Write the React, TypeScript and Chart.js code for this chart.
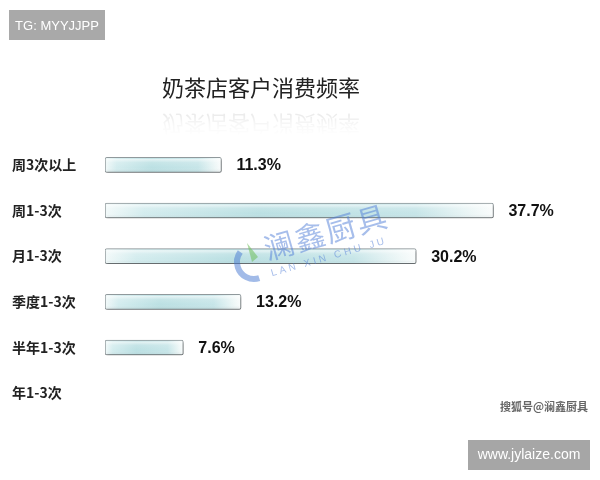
import React, { useEffect, useRef } from "react";
import { Chart, registerables } from "chart.js";

Chart.register(...registerables);

const categories = ["周3次以上", "周1-3次", "月1-3次", "季度1-3次", "半年1-3次", "年1-3次"];
const shares: (number | null)[] = [11.3, 37.7, 30.2, 13.2, 7.6, null];
const titleText = "奶茶店客户消费频率";
const tagText = "TG: MYYJJPP";
const siteText = "www.jylaize.com";
const sourceText = "搜狐号@澜鑫厨具";
const brandText = "澜鑫厨具";
const brandLatin = "LAN XIN CHU JU";

const CJK = '"Noto Sans CJK SC", "Liberation Sans", sans-serif';
const LAT = '"Liberation Sans", Arial, sans-serif';

const decorPlugin = {
  id: "decor",
  beforeDatasetsDraw(chart: any) {
    const c = chart.ctx;
    c.save();
    c.shadowColor = "rgba(0,0,0,0.35)";
    c.shadowBlur = 3;
    c.shadowOffsetY = 2;
    c.shadowOffsetX = 1;
  },
  afterDatasetsDraw(chart: any) {
    const c = chart.ctx;
    c.restore();
    const meta = chart.getDatasetMeta(0);
    meta.data.forEach((el: any, i: number) => {
      const v = shares[i];
      if (v == null) return;
      const { x, y, base, height } = el.getProps(["x", "y", "base", "height"], true);
      const top = y - height / 2;
      const g = c.createLinearGradient(0, top, 0, top + height);
      g.addColorStop(0, "rgba(255,255,255,0.85)");
      g.addColorStop(0.35, "rgba(255,255,255,0.15)");
      g.addColorStop(0.7, "rgba(255,255,255,0)");
      g.addColorStop(1, "rgba(120,140,145,0.25)");
      c.save();
      c.fillStyle = g;
      c.fillRect(base + 1.5, top + 1.5, x - base - 3, height - 3);
      c.restore();
      c.save();
      c.font = "bold 16px " + LAT;
      c.fillStyle = "#111";
      c.textBaseline = "middle";
      c.textAlign = "left";
      c.fillText(v.toFixed(1) + "%", x + 15, y + 1);
      c.restore();
    });
  },
  afterDraw(chart: any) {
    const c = chart.ctx;
    c.save();
    c.font = "22px " + CJK;
    c.fillStyle = "#222";
    c.textAlign = "center";
    c.textBaseline = "middle";
    c.fillText(titleText, 261, 88);
    c.translate(261, 106);
    c.scale(1, -1);
    const rg = c.createLinearGradient(0, 0, 0, -30);
    rg.addColorStop(0, "rgba(0,0,0,0.0)");
    rg.addColorStop(0.3, "rgba(0,0,0,0.08)");
    rg.addColorStop(0.6, "rgba(0,0,0,0.03)");
    rg.addColorStop(1, "rgba(0,0,0,0)");
    c.fillStyle = rg;
    c.fillText(titleText, 0, -18);
    c.restore();

    c.save();
    c.fillStyle = "#a9a9a9";
    c.fillRect(9, 10, 96, 30);
    c.fillStyle = "#fff";
    c.font = "13px " + LAT;
    c.textAlign = "center";
    c.textBaseline = "middle";
    c.fillText(tagText, 57, 26);
    c.fillStyle = "#a6a6a6";
    c.fillRect(468, 440, 122, 30);
    c.fillStyle = "#fff";
    c.font = "14px " + LAT;
    c.fillText(siteText, 529, 455);
    c.fillStyle = "#666";
    c.font = "bold 11px " + CJK;
    c.textAlign = "right";
    c.fillText(sourceText, 588, 407);
    c.restore();

    c.save();
    c.strokeStyle = "rgba(70,120,210,0.5)";
    c.lineWidth = 6;
    c.beginPath();
    c.arc(254, 262, 17, Math.PI * 0.4, Math.PI * 1.2);
    c.stroke();
    c.fillStyle = "rgba(110,190,90,0.55)";
    c.beginPath();
    c.moveTo(252, 262);
    c.lineTo(247, 243);
    c.lineTo(258, 257);
    c.closePath();
    c.fill();
    c.translate(326, 232);
    c.rotate((-16 * Math.PI) / 180);
    c.fillStyle = "rgba(80,125,215,0.5)";
    c.font = "30px " + CJK;
    c.textAlign = "center";
    c.textBaseline = "middle";
    (c as any).letterSpacing = "2px";
    c.fillText(brandText, 0, 0);
    c.font = "10px " + LAT;
    (c as any).letterSpacing = "3px";
    c.fillText(brandLatin, -4, 25);
    c.restore();
  },
};

export default function App() {
  const ref = useRef<HTMLCanvasElement | null>(null);
  useEffect(() => {
    if (!ref.current) return;
    const chart = new Chart(ref.current, {
      type: "bar",
      data: {
        labels: categories,
        datasets: [
          {
            data: shares as any,
            barThickness: 15,
            borderWidth: 1,
            borderColor: "#929b9e",
            borderRadius: 2,
            borderSkipped: false,
            backgroundColor: (ctx: any) => {
              const chart = ctx.chart;
              if (!chart.chartArea || ctx.type !== "data" || ctx.raw == null) return "#c2e3e6";
              const xs = chart.scales.x;
              const x0 = xs.getPixelForValue(0);
              const x1 = xs.getPixelForValue(ctx.raw);
              const g = chart.ctx.createLinearGradient(x0, 0, x1, 0);
              g.addColorStop(0, "#f2f9f9");
              g.addColorStop(0.1, "#d3ecee");
              g.addColorStop(0.4, "#bbe0e3");
              g.addColorStop(0.8, "#c6e5e8");
              g.addColorStop(0.95, "#eef7f7");
              g.addColorStop(1, "#fafcfc");
              return g;
            },
          },
        ],
      },
      options: {
        indexAxis: "y",
        responsive: false,
        animation: false,
        devicePixelRatio: 1,
        layout: { padding: { left: 12, right: 21, top: 142, bottom: 64 } },
        plugins: {
          legend: { display: false },
          title: { display: false },
          tooltip: { enabled: false },
        },
        scales: {
          x: { display: false, min: 0, max: 46 },
          y: {
            grid: { display: false },
            border: { display: false },
            afterFit: (s: any) => {
              s.width = 93;
            },
            ticks: {
              crossAlign: "far",
              padding: 0,
              color: "#222",
              font: { family: '"Noto Sans CJK SC", "Liberation Sans", sans-serif', size: 14, weight: "bold" },
            },
          },
        },
      },
      plugins: [decorPlugin],
    } as any);
    return () => chart.destroy();
  }, []);
  return (
    <div style={{ position: "fixed", left: 0, top: 0, width: 600, height: 480, background: "#fff" }}>
      <canvas ref={ref} width={600} height={480} style={{ display: "block" }} />
    </div>
  );
}
